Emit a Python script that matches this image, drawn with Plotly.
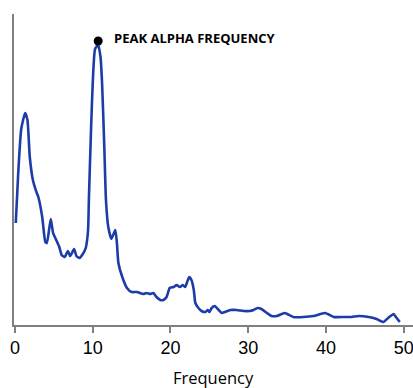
import plotly.graph_objects as go

# Frequency (Hz) and spectral power (arbitrary units)
freq = [0.1, 0.4, 0.8, 1.3, 1.6, 1.9, 2.3, 2.8, 3.0, 3.5, 3.9, 4.1, 4.6, 4.9, 5.3, 5.7,
        6.0, 6.4, 6.8, 7.1, 7.6, 7.9, 8.3, 8.8, 9.1, 9.4, 9.5, 9.8, 10.0, 10.3, 10.7,
        11.0, 11.2, 11.5, 11.7, 12.0, 12.4, 12.9, 13.1, 13.3, 13.8, 14.4, 15.0, 15.7,
        16.5, 16.9, 17.4, 17.8, 18.2, 18.7, 19.1, 19.5, 19.9, 20.4, 20.8, 21.2, 21.6,
        21.9, 22.1, 22.4, 22.7, 23.0, 23.2, 23.6, 24.0, 24.5, 24.8, 25.0, 25.3, 25.7,
        26.2, 26.6, 27.0, 27.7, 28.5, 29.4, 30.2, 30.7, 31.2, 31.7, 32.4, 33.0, 33.7,
        34.7, 35.8, 37.1, 38.4, 39.9, 41.0, 42.3, 43.3, 44.2, 45.5, 46.5, 47.4, 48.0,
        48.7, 49.0, 49.5]
power = [102, 150, 196, 212, 205, 168, 145, 132, 128, 108, 83, 82, 106, 92, 85, 78,
         70, 68, 74, 69, 76, 69, 67, 72, 77, 95, 125, 200, 242, 276, 280,
         268, 242, 175, 125, 98, 86, 95, 83, 62, 48, 37, 33, 33,
         31, 32, 31, 32, 28, 25, 25, 28, 37, 38, 40, 38, 40,
         38, 42, 48, 45, 35, 22, 17, 14, 13, 15, 13, 17, 19,
         15, 12, 13, 15, 15, 14, 14, 15, 17, 16, 12, 9, 9,
         12, 8, 8, 9, 12, 8, 8, 8, 9, 8, 6, 3, 7,
         11, 8, 3]

peak_freq = [10.7]
peak_power = [284]
peak_label = "PEAK ALPHA FREQUENCY"
x_title = "Frequency"
x_ticks = [0, 10, 20, 30, 40, 50]

fig = go.Figure()
fig.add_trace(go.Scatter(x=freq, y=power, mode="lines",
                         line=dict(color="#1c3ca8", width=2.6, shape="spline", smoothing=0.5),
                         hoverinfo="skip"))
fig.add_trace(go.Scatter(x=peak_freq, y=peak_power, mode="markers",
                         marker=dict(color="black", size=9), hoverinfo="skip"))
fig.add_annotation(x=12.45, y=287, xref="x", yref="y", text="<b>" + peak_label + "</b>",
                   showarrow=False, xanchor="left", yanchor="middle",
                   font=dict(family="Open Sans, sans-serif", size=13, color="black"))
fig.add_annotation(x=(213 - 14) / 399, y=0, xref="paper", yref="paper", yanchor="middle",
                   yshift=-52, text=x_title, showarrow=False,
                   font=dict(family="Open Sans, sans-serif", size=16.5, color="black"))

fig.update_layout(
    width=413, height=388,
    margin=dict(l=14, r=0, t=14, b=63, autoexpand=False),
    paper_bgcolor="white", plot_bgcolor="white",
    showlegend=False,
    xaxis=dict(range=[-0.13, 51.2], tickvals=x_ticks, ticks="outside", ticklen=6,
               tickcolor="#7f7f7f", tickwidth=1.5, showline=True, linecolor="#7f7f7f",
               linewidth=1.5, showgrid=False, zeroline=False, automargin=False,
               ticklabeloverflow="allow",
               tickfont=dict(family="Liberation Sans, Arial", size=18, color="black")),
    yaxis=dict(range=[0, 311], showticklabels=False, ticks="", showline=True,
               linecolor="#7f7f7f", linewidth=1.5, showgrid=False, zeroline=False,
               automargin=False),
)

fig.write_html("out.html", config={"displayModeBar": False},
               post_script="document.body.style.margin='0';document.body.style.overflow='hidden';")
